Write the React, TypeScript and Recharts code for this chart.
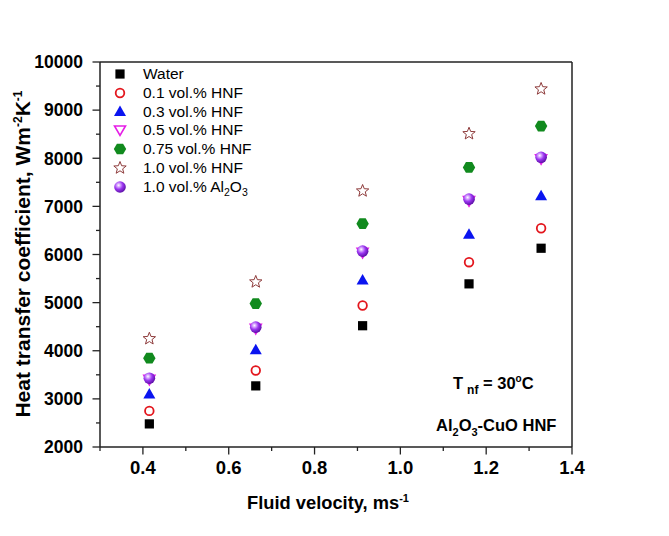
import { ScatterChart, Scatter, XAxis, YAxis, ReferenceLine, Legend } from "recharts";

const FONT = "'Liberation Sans', Arial, sans-serif";

// fluid velocity (m/s) at each measurement
const VELOCITY = [0.415, 0.663, 0.912, 1.16, 1.328];

// heat transfer coefficient (W/m²K)
const WATER = [2480, 3270, 4520, 5390, 6130];
const HNF_01 = [2750, 3590, 4940, 5840, 6545];
const HNF_03 = [3090, 4010, 5460, 6410, 7210];
const HNF_05 = [3405, 4465, 6045, 7120, 7990];
const HNF_075 = [3845, 4980, 6640, 7810, 8670];
const HNF_10 = [4250, 5430, 7320, 8510, 9440];
const AL2O3_10 = [3430, 4490, 6070, 7150, 8020];

const X_TICKS = [0.3, 0.4, 0.5, 0.6, 0.7, 0.8, 0.9, 1.0, 1.1, 1.2, 1.3, 1.4];
const Y_TICKS = [2000, 2500, 3000, 3500, 4000, 4500, 5000, 5500, 6000, 6500, 7000, 7500, 8000, 8500, 9000, 9500, 10000];

type Kind = "square" | "circle" | "up" | "down" | "hex" | "star" | "sphere";

const SERIES: { name: React.ReactNode; key: string; kind: Kind; values: number[] }[] = [
  { key: "water", name: "Water", kind: "square", values: WATER },
  { key: "hnf01", name: "0.1 vol.% HNF", kind: "circle", values: HNF_01 },
  { key: "hnf03", name: "0.3 vol.% HNF", kind: "up", values: HNF_03 },
  { key: "hnf05", name: "0.5 vol.% HNF", kind: "down", values: HNF_05 },
  { key: "hnf075", name: "0.75 vol.% HNF", kind: "hex", values: HNF_075 },
  { key: "hnf10", name: "1.0 vol.% HNF", kind: "star", values: HNF_10 },
  {
    key: "al2o3",
    name: (
      <>
        1.0 vol.% Al<sub style={{ fontSize: 10.5, lineHeight: 0 }}>2</sub>O<sub style={{ fontSize: 10.5, lineHeight: 0 }}>3</sub>
      </>
    ),
    kind: "sphere",
    values: AL2O3_10,
  },
];

function Marker({ kind, cx, cy }: { kind: Kind; cx: number; cy: number }) {
  switch (kind) {
    case "square":
      return <rect x={cx - 4.6} y={cy - 4.6} width={9.2} height={9.2} fill="#000" />;
    case "circle":
      return <circle cx={cx} cy={cy} r={4.3} fill="#fff" stroke="#E3161D" strokeWidth={1.8} />;
    case "up":
      return <polygon points={`${cx},${cy - 6.5} ${cx - 6},${cy + 4} ${cx + 6},${cy + 4}`} fill="#0A14F0" />;
    case "down":
      return (
        <polygon
          points={`${cx - 5.5},${cy - 4} ${cx + 5.5},${cy - 4} ${cx},${cy + 5.5}`}
          fill="#fff"
          stroke="#E61EE6"
          strokeWidth={1.6}
        />
      );
    case "hex": {
      const pts = [0, 1, 2, 3, 4, 5]
        .map((i) => {
          const a = (Math.PI / 3) * i;
          return `${cx + 6.2 * Math.cos(a)},${cy + 6.2 * Math.sin(a)}`;
        })
        .join(" ");
      return <polygon points={pts} fill="#118A1E" />;
    }
    case "star": {
      const pts = Array.from({ length: 10 }, (_, i) => {
        const r = i % 2 === 0 ? 6.5 : 2.8;
        const a = -Math.PI / 2 + (Math.PI / 5) * i;
        return `${cx + r * Math.cos(a)},${cy + r * Math.sin(a)}`;
      }).join(" ");
      return <polygon points={pts} fill="#fff" stroke="#8E3B3B" strokeWidth={1} />;
    }
    case "sphere":
      return (
        <g>
          <defs>
            <radialGradient id="sphereFill" cx="38%" cy="35%" r="65%">
              <stop offset="0%" stopColor="#ffffff" />
              <stop offset="22%" stopColor="#D7A8FF" />
              <stop offset="55%" stopColor="#9B35F0" />
              <stop offset="100%" stopColor="#5E12A8" />
            </radialGradient>
          </defs>
          <circle cx={cx} cy={cy} r={5.8} fill="url(#sphereFill)" />
        </g>
      );
  }
  return null;
}

// major ticks every 0.2 get a label, minor ticks in between
function XTick({ x, y, payload }: any) {
  const v = payload.value as number;
  const major = Math.round(v * 10) % 2 === 0;
  return (
    <g>
      <line x1={x} x2={x} y1={y} y2={y + (major ? 7.5 : 4)} stroke="#222" strokeWidth={1.3} />
      {major && (
        <text x={x} y={y + 27} textAnchor="middle" fontFamily={FONT} fontWeight="bold" fontSize={18.5} fill="#000">
          {v.toFixed(1)}
        </text>
      )}
    </g>
  );
}

function YTick({ x, y, payload }: any) {
  const v = payload.value as number;
  const major = v % 1000 === 0;
  return (
    <g>
      <line x1={x - (major ? 7.5 : 4)} x2={x} y1={y} y2={y} stroke="#222" strokeWidth={1.3} />
      {major && (
        <text x={x - 17} y={y + 6.3} textAnchor="end" fontFamily={FONT} fontWeight="bold" fontSize={17.5} fill="#000">
          {v}
        </text>
      )}
    </g>
  );
}

function LegendBox() {
  return (
    <div style={{ fontFamily: FONT, fontSize: 15.5, color: "#000" }}>
      {SERIES.map((s) => (
        <div key={s.key} style={{ display: "flex", alignItems: "center", height: 18.8, whiteSpace: "nowrap" }}>
          <svg width={20} height={18} style={{ marginRight: 13 }}>
            <Marker kind={s.kind} cx={10} cy={9} />
          </svg>
          <span>{s.name}</span>
        </div>
      ))}
    </div>
  );
}

export default function App() {
  return (
    <div style={{ position: "absolute", left: 0, top: 0, width: 669, height: 536, background: "#fff" }}>
      <ScatterChart width={669} height={536} margin={{ top: 62, right: 97, left: 0, bottom: 0 }}>
        <XAxis
          type="number"
          dataKey="x"
          domain={[0.3, 1.4]}
          ticks={X_TICKS}
          allowDataOverflow
          height={89}
          tickSize={0}
          tickMargin={0}
          tickLine={false}
          tick={<XTick />}
          axisLine={{ stroke: "#222", strokeWidth: 1.5 }}
          interval={0}
        />
        <YAxis
          type="number"
          dataKey="y"
          domain={[2000, 10000]}
          ticks={Y_TICKS}
          allowDataOverflow
          width={100}
          tickSize={0}
          tickMargin={0}
          tickLine={false}
          tick={<YTick />}
          axisLine={{ stroke: "#222", strokeWidth: 1.5 }}
          interval={0}
        />
        <ReferenceLine y={10000} stroke="#222" strokeWidth={1.5} />
        <ReferenceLine x={1.4} stroke="#222" strokeWidth={1.5} />
        <Legend
          layout="vertical"
          align="center"
          verticalAlign="middle"
          wrapperStyle={{ left: 110, top: 64.6, width: "auto", height: "auto" }}
          content={() => <LegendBox />}
        />
        {SERIES.map((s) => (
          <Scatter
            key={s.key}
            name={s.key}
            data={s.values.map((v, i) => ({ x: VELOCITY[i], y: v }))}
            shape={(p: any) => <Marker kind={s.kind} cx={p.cx} cy={p.cy} />}
            isAnimationActive={false}
          />
        ))}
      </ScatterChart>

      <svg
        width={669}
        height={536}
        style={{ position: "absolute", left: 0, top: 0, pointerEvents: "none" }}
        fontFamily={FONT}
        fontWeight="bold"
      >
        <text transform="translate(30,254) rotate(-90)" textAnchor="middle" fontSize={21} fill="#000">
          Heat transfer coefficient, Wm
          <tspan dy={-8} fontSize={12}>-2</tspan>
          <tspan dy={8}>K</tspan>
          <tspan dy={-8} fontSize={12}>-1</tspan>
        </text>
        <text x={328} y={509} textAnchor="middle" fontSize={18.3} fill="#000">
          Fluid velocity, ms
          <tspan dy={-7} fontSize={11}>-1</tspan>
        </text>
        <text x={453} y={389} fontSize={16.5} fill="#000">
          T
          <tspan dx={4} dy={5} fontSize={12}>nf</tspan>
          <tspan dy={-5}> = 30</tspan>
          <tspan dy={-7} fontSize={10}>o</tspan>
          <tspan dy={7}>C</tspan>
        </text>
        <text x={436} y={431} fontSize={16.5} fill="#000">
          Al
          <tspan dy={5} fontSize={11}>2</tspan>
          <tspan dy={-5}>O</tspan>
          <tspan dy={5} fontSize={11}>3</tspan>
          <tspan dy={-5}>-CuO HNF</tspan>
        </text>
      </svg>
    </div>
  );
}
